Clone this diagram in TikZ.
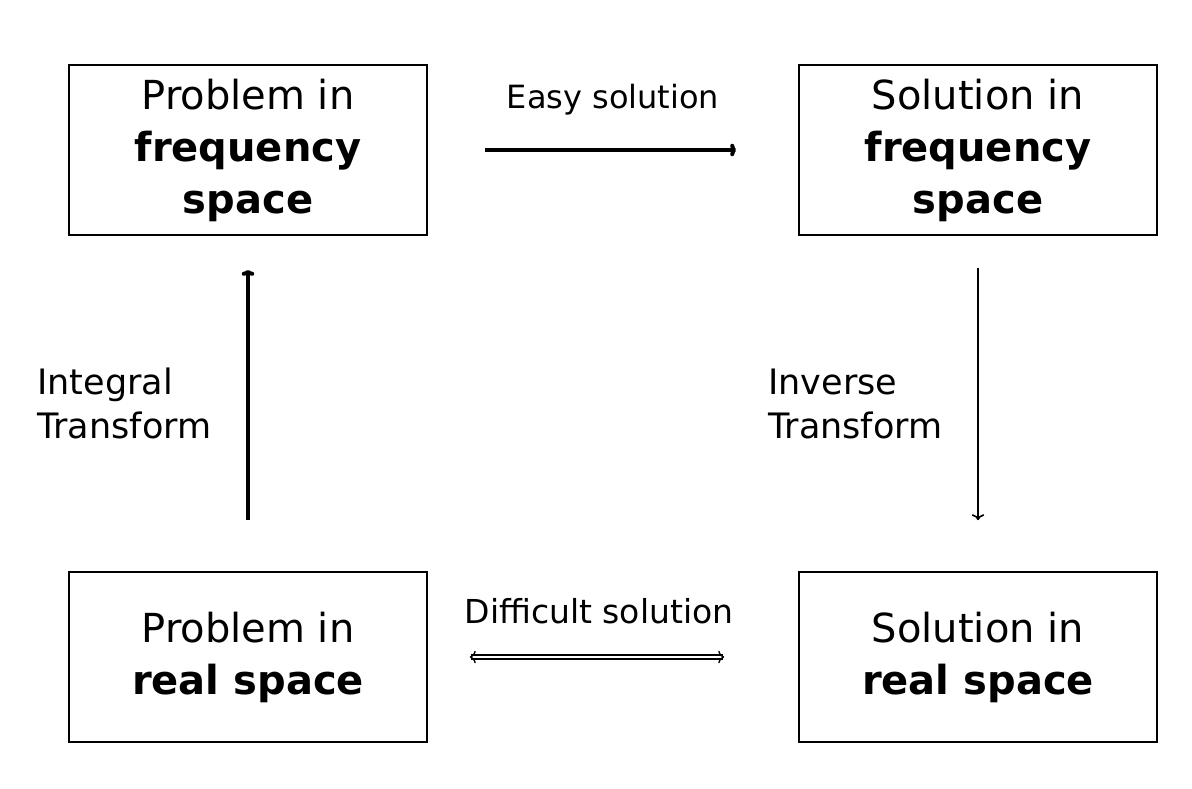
\documentclass[tikz,border=0pt]{standalone}
\usepackage{fontspec}
\setmainfont{DejaVu Sans}
\usetikzlibrary{arrows.meta}
\tikzset{
  spacebox/.style={draw, line width=0.8pt, minimum width=179pt, minimum height=85pt,
    align=center, font=\fontsize{20}{26}\selectfont},
  arrowlabel/.style={font=\fontsize{16}{21}\selectfont},
  sidelabel/.style={align=left, font=\fontsize{17.5}{22}\selectfont},
}
\begin{document}
\begin{tikzpicture}[x=0.5pt, y=-0.5pt]
    \useasboundingbox (0,0) rectangle (1192,788);
    \node[spacebox] (pf) at (248,150) {Problem in\\\textbf{frequency}\\\textbf{space}};
    \node[spacebox] (sf) at (978,150) {Solution in\\\textbf{frequency}\\\textbf{space}};
    \node[spacebox] (pr) at (248,657) {Problem in\\\textbf{real space}};
    \node[spacebox] (sr) at (978,657) {Solution in\\\textbf{real space}};
    \draw[-{To[length=3pt]}, line width=2pt, shorten <=28.5pt, shorten >=31pt] (pf.east) -- (sf.west)
        node[midway, above=13pt, arrowlabel] {Easy solution};
    \draw[{To[length=3pt]}-{To[length=3pt]}, double, line width=0.7pt, double distance=1.4pt,
        shorten <=21pt, shorten >=37pt] (pr.east) -- (sr.west)
        node[midway, above=13pt, xshift=-7pt, arrowlabel, font=\fontsize{16.5}{21}\selectfont] {Difficult solution};
    \draw[-{To[length=3pt]}, line width=2pt, shorten <=25.5pt, shorten >=17pt] (pr.north) -- (pf.south)
        node[midway, left=14pt, sidelabel] {Integral\\Transform};
    \draw[-{To[length=3pt]}, line width=0.8pt, shorten <=16pt, shorten >=25.5pt] (sf.south) -- (sr.north)
        node[midway, left=14pt, sidelabel] {Inverse\\Transform};
\end{tikzpicture}
\end{document}
